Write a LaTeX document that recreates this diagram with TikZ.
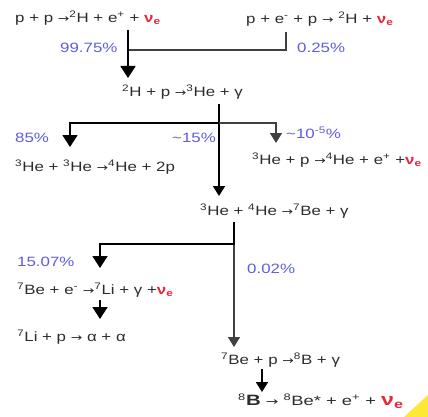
\documentclass[tikz,border=0pt]{standalone}
\usepackage{fontspec}
\usepackage{graphicx}
\setmainfont{Liberation Sans}
\newfontfamily\arrowfont{DejaVu Sans}
\usetikzlibrary{arrows.meta}
\definecolor{txt}{RGB}{45,45,45}
\definecolor{pct}{RGB}{95,95,225}
\definecolor{nured}{RGB}{232,40,60}
\newcommand{\nue}{\textcolor{nured}{\textbf{ν\textsubscript{e}}}}
\newcommand{\sps}[1]{\textsuperscript{#1}}
\newcommand{\sx}[1]{\scalebox{1.25}[1]{#1}}
\newcommand{\ra}{{\arrowfont\fontsize{11}{13}\selectfont →}}
\tikzset{
  eq/.style={anchor=west, inner sep=0pt, text=txt, font=\fontsize{13.5}{15}\selectfont},
  pc/.style={anchor=west, inner sep=0pt, text=pct, font=\fontsize{13.5}{15}\selectfont},
  trunk/.style={draw=black, line width=1.8pt},
  branch/.style={draw=black!75, line width=1.5pt},
  bigarrow/.style={-{Triangle[length=12pt,width=15pt]}},
  smallarrow/.style={-{Triangle[length=10pt,width=12pt]}},
}
\begin{document}
\begin{tikzpicture}[x=1pt,y=-1pt]
\useasboundingbox[fill=white] (0,0) rectangle (428,417);
% yellow corner
\fill[yellow!85!orange, opacity=0.8] (428,395) -- (428,417) -- (404,417) -- cycle;

% equations
\node[eq] (t1) at (15,18) {\sx{p + p \ra\sps{2}H + e\sps{+} + \nue}};
\node[eq] (t2) at (246,19) {\sx{p + e\sps{-} + p \ra{} \sps{2}H + \nue}};
\node[pc] (p1) at (60,48) {\sx{99.75\%}};
\node[pc] (p2) at (297,48) {\sx{0.25\%}};
\node[eq] (t3) at (122,92) {\sx{\sps{2}H + p \ra\sps{3}He + γ}};
\node[pc] (p3) at (15,138) {\sx{85\%}};
\node[pc] (p4) at (172,138) {\sx{\textasciitilde 15\%}};
\node[pc] (p5) at (286,133) {\sx{\textasciitilde 10\sps{-5}\%}};
\node[eq] (t4) at (15,167) {\sx{\sps{3}He + \sps{3}He \ra\sps{4}He + 2p}};
\node[eq] (t5) at (252,160) {\sx{\sps{3}He + p \ra\sps{4}He + e\sps{+} +\nue}};
\node[eq] (t6) at (200,211) {\sx{\sps{3}He + \sps{4}He \ra\sps{7}Be + γ}};
\node[pc] (p6) at (17,262) {\sx{15.07\%}};
\node[pc] (p7) at (247,269) {\sx{0.02\%}};
\node[eq] (t7) at (17,290) {\sx{\sps{7}Be + e\sps{-} \ra\sps{7}Li + γ +\nue}};
\node[eq] (t9) at (17,337) {\sx{\sps{7}Li + p \ra{} α + α}};
\node[eq] (t10) at (221,360) {\sx{\sps{7}Be + p \ra\sps{8}B + γ}};
\node[eq] (t11) at (238,401) {\scalebox{1.36}[1]{\sps{8}{\fontsize{15}{15}\selectfont\textbf{B}} \ra{} \sps{8}Be* + e\sps{+} + \textcolor{nured}{\textbf{\fontsize{17}{17}\selectfont ν\textsubscript{e}}}}};

% connector points
\coordinate (a1s) at (128,30);
\coordinate (a1e) at (128,78);
\coordinate (b1s) at (286,32);
\coordinate (b1c) at (286,50);
\coordinate (b1e) at (128,50);
\coordinate (a2s) at (219,104);
\coordinate (a2e) at (219,196);
\coordinate (h2l) at (70,123);
\coordinate (h2r) at (276,123);
\coordinate (h2m) at (219,123);
\coordinate (l2e) at (70,147);
\coordinate (r2e) at (276,143);
\coordinate (a3s) at (234,222);
\coordinate (a3e) at (234,347);
\coordinate (h3m) at (234,244);
\coordinate (h3l) at (100,244);
\coordinate (l3e) at (100,268);
\coordinate (a4s) at (100,300);
\coordinate (a4e) at (100,319);
\coordinate (a5s) at (262,369);
\coordinate (a5e) at (262,392);

\draw[branch] (b1s) -- (b1c) -- (b1e);
\draw[trunk,bigarrow] (a1s) -- (a1e);

\draw[trunk,smallarrow] (a2s) -- (a2e);
\draw[trunk,bigarrow] (h2m) -- (h2l) -- (l2e);
\draw[branch,smallarrow] (h2m) -- (h2r) -- (r2e);

\draw[branch,smallarrow] (a3s) -- (a3e);
\draw[trunk,bigarrow] (a3s) -- (h3m) -- (h3l) -- (l3e);
\draw[trunk,bigarrow] (a4s) -- (a4e);
\draw[trunk,smallarrow] (a5s) -- (a5e);
\end{tikzpicture}
\end{document}
